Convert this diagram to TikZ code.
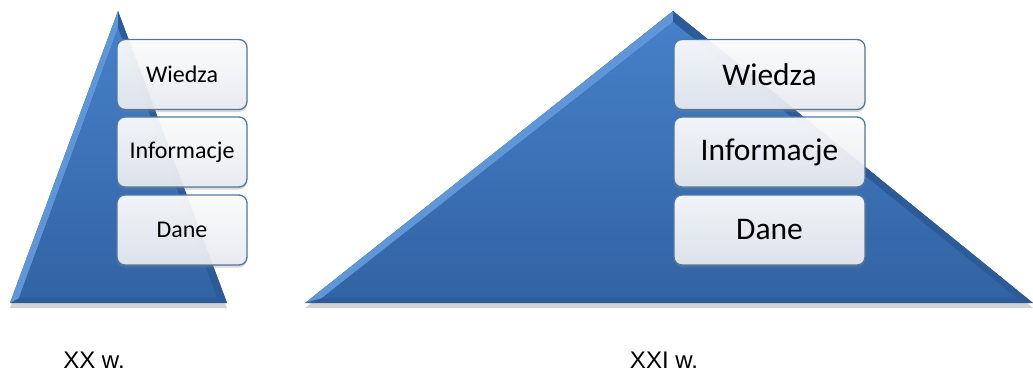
\documentclass[tikz,border=0pt]{standalone}
\usepackage{fontspec}
\setmainfont{Carlito}
\newfontfamily\capfont{Liberation Sans}
\usepackage{xcolor}
\usetikzlibrary{positioning,shadows}

\definecolor{pyrtop}{HTML}{4680C8}
\definecolor{pyrbot}{HTML}{3263A4}
\definecolor{pyrlight}{HTML}{5E96D8}
\definecolor{pyrdark}{HTML}{2D5B97}
\definecolor{pyrbase}{HTML}{2E5C99}
\definecolor{boxedge}{HTML}{52779F}
\definecolor{boxfill}{HTML}{E9ECF1}

\begin{document}
\begin{tikzpicture}[x=1pt,y=-1pt,
    box/.style={rectangle,rounded corners=8pt,draw=boxedge,line width=1.3pt,
        top color=white,bottom color=boxfill,fill opacity=.92,text opacity=1,
        drop shadow={shadow xshift=0pt,shadow yshift=-2.5pt,opacity=.3}},
    smallbox/.style={box,minimum width=130,minimum height=70,font=\fontsize{24}{27}\selectfont},
    bigbox/.style={box,minimum width=191,minimum height=70,font=\fontsize{31.5}{34}\selectfont},
    caption/.style={font=\capfont\fontsize{24}{28}\selectfont}]
    \useasboundingbox (0,0) rectangle (1033,376);

    % left pyramid
    \coordinate (LA) at (10,303);
    \coordinate (LB) at (118,11);
    \coordinate (LC) at (227,303);
    \coordinate (La) at (19,298);
    \coordinate (Lb) at (118,28);
    \coordinate (Lc) at (217,298);
    \fill[pyrbase,drop shadow={shadow xshift=0pt,shadow yshift=-5pt,opacity=.35}] (LA) -- (LB) -- (LC) -- cycle;
    \fill[pyrlight] (LA) -- (LB) -- (Lb) -- (La) -- cycle;
    \fill[pyrdark] (LB) -- (LC) -- (Lc) -- (Lb) -- cycle;
    \shade[top color=pyrtop,bottom color=pyrbot] (La) -- (Lb) -- (Lc) -- cycle;

    % right pyramid
    \coordinate (RA) at (305,303);
    \coordinate (RB) at (673,11);
    \coordinate (RC) at (1033,303);
    \coordinate (Ra) at (322,298);
    \coordinate (Rb) at (673,22);
    \coordinate (Rc) at (1017,298);
    \fill[pyrbase,drop shadow={shadow xshift=0pt,shadow yshift=-5pt,opacity=.35}] (RA) -- (RB) -- (RC) -- cycle;
    \fill[pyrlight] (RA) -- (RB) -- (Rb) -- (Ra) -- cycle;
    \fill[pyrdark] (RB) -- (RC) -- (Rc) -- (Rb) -- cycle;
    \shade[top color=pyrtop,bottom color=pyrbot] (Ra) -- (Rb) -- (Rc) -- cycle;

    \node[smallbox] (wiedzaL) at (182,74.5) {Wiedza};
    \node[smallbox] (infoL) at (182,152) {Informacje};
    \node[smallbox] (daneL) at (182,230) {Dane};

    \node[bigbox] (wiedzaR) at (769.5,74.5) {Wiedza};
    \node[bigbox] (infoR) at (769.5,152) {Informacje};
    \node[bigbox] (daneR) at (769.5,230) {Dane};

    \node[caption] (xx) at (94,360) {XX w.};
    \node[caption] (xxi) at (664,360) {XXI w.};
\end{tikzpicture}
\end{document}
